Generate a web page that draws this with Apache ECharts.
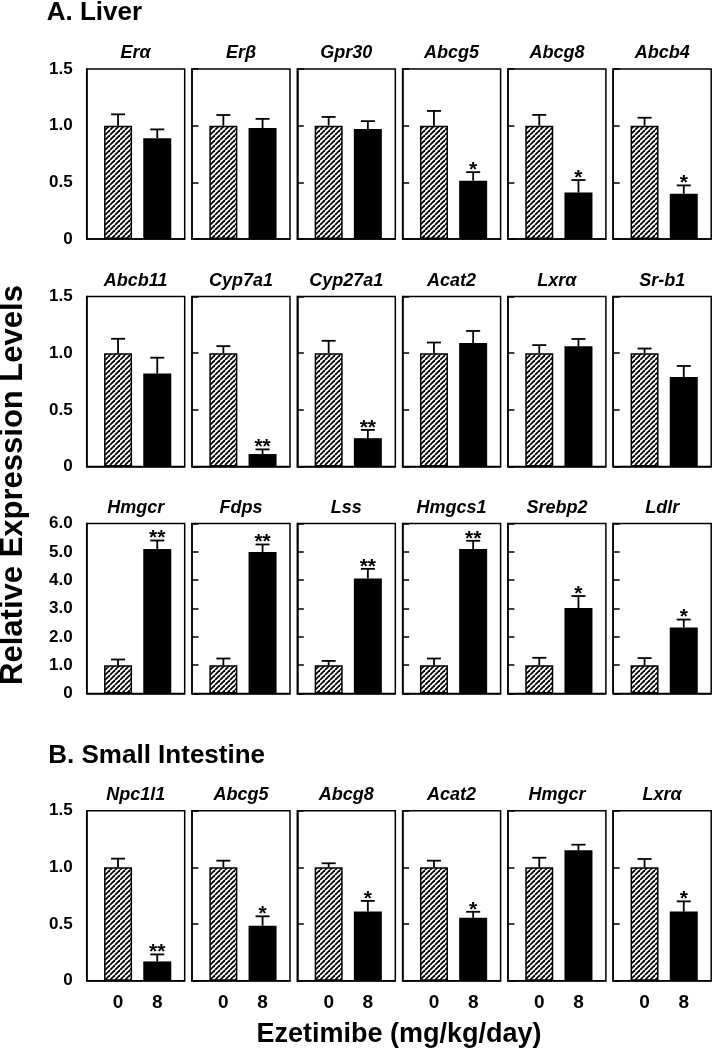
<!DOCTYPE html>
<html>
<head>
<meta charset="utf-8">
<script src="https://cdn.jsdelivr.net/npm/echarts@6/dist/echarts.min.js"></script>
<style>
html,body{margin:0;padding:0;background:#fff;}
#chart{width:713px;height:1050px;}
</style>
</head>
<body>
<div id="chart"></div>
<script>
// ---------- DATA ----------
const doses = ['0', '8'];
const sectionTitles = ['A. Liver', 'B. Small Intestine'];
const yTitle = 'Relative Expression Levels';
const xTitle = 'Ezetimibe (mg/kg/day)';

const genesRow1 = ['Erα', 'Erβ', 'Gpr30', 'Abcg5', 'Abcg8', 'Abcb4'];
const genesRow2 = ['Abcb11', 'Cyp7a1', 'Cyp27a1', 'Acat2', 'Lxrα', 'Sr-b1'];
const genesRow3 = ['Hmgcr', 'Fdps', 'Lss', 'Hmgcs1', 'Srebp2', 'Ldlr'];
const genesRow4 = ['Npc1l1', 'Abcg5', 'Abcg8', 'Acat2', 'Hmgcr', 'Lxrα'];

const ctrlMeanRow1 = [1.0, 1.0, 1.0, 1.0, 1.0, 1.0];
const ctrlSemRow1  = [0.10, 0.094, 0.077, 0.13, 0.095, 0.07];
const ezeMeanRow1  = [0.89, 0.98, 0.97, 0.515, 0.41, 0.40];
const ezeSemRow1   = [0.077, 0.08, 0.07, 0.075, 0.11, 0.073];
const starsRow1    = ['', '', '', '*', '*', '*'];

const ctrlMeanRow2 = [1.0, 1.0, 1.0, 1.0, 1.0, 1.0];
const ctrlSemRow2  = [0.127, 0.062, 0.109, 0.094, 0.071, 0.041];
const ezeMeanRow2  = [0.82, 0.11, 0.25, 1.09, 1.06, 0.79];
const ezeSemRow2   = [0.14, 0.041, 0.073, 0.106, 0.065, 0.097];
const starsRow2    = ['', '**', '**', '', '', ''];

const ctrlMeanRow3 = [1.0, 1.0, 1.0, 1.0, 1.0, 1.0];
const ctrlSemRow3  = [0.20, 0.235, 0.15, 0.235, 0.26, 0.25];
const ezeMeanRow3  = [5.10, 4.99, 4.06, 5.10, 3.02, 2.33];
const ezeSemRow3   = [0.30, 0.27, 0.34, 0.29, 0.42, 0.28];
const starsRow3    = ['**', '**', '**', '**', '*', '*'];

const ctrlMeanRow4 = [1.0, 1.0, 1.0, 1.0, 1.0, 1.0];
const ctrlSemRow4  = [0.077, 0.059, 0.036, 0.059, 0.085, 0.074];
const ezeMeanRow4  = [0.17, 0.485, 0.61, 0.555, 1.15, 0.61];
const ezeSemRow4   = [0.062, 0.083, 0.094, 0.053, 0.05, 0.09];
const starsRow4    = ['**', '*', '*', '*', '', '*'];

const yMaxRows = [1.5, 1.5, 6, 1.5];
const yIntervalRows = [0.5, 0.5, 1, 0.5];

// ---------- LAYOUT ----------
const FONT = '"Liberation Sans", Arial, Helvetica, sans-serif';
const colLeft0 = 86.7, colPitch = 105.3, panelW = 98, panelH = 170;
const rowTops = [69, 296.5, 523.5, 810.7];

const rows = [
  {genes: genesRow1, cm: ctrlMeanRow1, cs: ctrlSemRow1, em: ezeMeanRow1, es: ezeSemRow1, st: starsRow1},
  {genes: genesRow2, cm: ctrlMeanRow2, cs: ctrlSemRow2, em: ezeMeanRow2, es: ezeSemRow2, st: starsRow2},
  {genes: genesRow3, cm: ctrlMeanRow3, cs: ctrlSemRow3, em: ezeMeanRow3, es: ezeSemRow3, st: starsRow3},
  {genes: genesRow4, cm: ctrlMeanRow4, cs: ctrlSemRow4, em: ezeMeanRow4, es: ezeSemRow4, st: starsRow4}
];

// hatch pattern
const hc = document.createElement('canvas');
hc.width = 5; hc.height = 5;
const hctx = hc.getContext('2d');
hctx.fillStyle = '#fff'; hctx.fillRect(0, 0, 5, 5);
hctx.strokeStyle = '#000'; hctx.lineWidth = 1.8;
[-5, 0, 5].forEach(k => { hctx.beginPath(); hctx.moveTo(k, 5); hctx.lineTo(k + 5, 0); hctx.stroke(); });
const hatch = {image: hc, repeat: 'repeat'};

const grid = [], xAxis = [], yAxis = [], series = [], graphic = [];

rows.forEach((r, ri) => {
  r.genes.forEach((g, ci) => {
    const gi = ri * 6 + ci;
    const left = colLeft0 + ci * colPitch;
    const top = rowTops[ri];
    grid.push({left: left, top: top, width: panelW, height: panelH, show: true,
      borderColor: '#000', borderWidth: 1.5, backgroundColor: 'transparent', containLabel: false});
    xAxis.push({type: 'value', gridIndex: gi, min: -0.8, max: 1.7, position: 'bottom',
      axisLine: {show: true, onZero: false, lineStyle: {color: '#000', width: 1.5}},
      axisTick: {show: false}, splitLine: {show: false},
      axisLabel: {show: ri === 3, customValues: [0, 1], margin: 13,
        formatter: v => doses[Math.round(v)],
        fontSize: 19, fontWeight: 'bold', color: '#000', fontFamily: FONT}});
    yAxis.push({type: 'value', gridIndex: gi, min: 0, max: yMaxRows[ri], interval: yIntervalRows[ri],
      position: 'left',
      axisLine: {show: true, onZero: false, lineStyle: {color: '#000', width: 1.5}},
      splitLine: {show: false},
      axisTick: {show: ci > 0, inside: true, length: 6.5, lineStyle: {color: '#000', width: 1.5}},
      axisLabel: {show: ci === 0, margin: 14, fontSize: 17, fontWeight: 'bold', color: '#000', fontFamily: FONT,
        formatter: v => v === 0 ? '0' : v.toFixed(1)}});
    series.push({type: 'bar', xAxisIndex: gi, yAxisIndex: gi, barWidth: 28, z: 2,
      data: [
        {value: [0, r.cm[ci]], itemStyle: {color: hatch, borderColor: '#000', borderWidth: 1.5}},
        {value: [1, r.em[ci]], itemStyle: {color: '#000'}}
      ]});
    const star = r.st[ci];
    series.push({type: 'custom', xAxisIndex: gi, yAxisIndex: gi, z: 3,
      encode: {x: 0, y: [1, 2]},
      data: [[0, r.cm[ci], r.cm[ci] + r.cs[ci]], [1, r.em[ci], r.em[ci] + r.es[ci]]],
      renderItem: function (params, api) {
        const x = api.value(0), m = api.value(1), t = api.value(2);
        const p0 = api.coord([x, m]), p1 = api.coord([x, t]);
        const ls = {stroke: '#000', lineWidth: 1.8};
        const children = [
          {type: 'line', shape: {x1: p0[0], y1: p0[1], x2: p1[0], y2: p1[1]}, style: ls},
          {type: 'line', shape: {x1: p1[0] - 7, y1: p1[1], x2: p1[0] + 7, y2: p1[1]}, style: ls}
        ];
        if (params.dataIndex === 1 && star) {
          children.push({type: 'text', x: p1[0], y: p1[1] - 2,
            style: {text: star, align: 'center', verticalAlign: 'middle', fontSize: 21, fontWeight: 'bold',
              fontFamily: FONT, fill: '#000'}});
        }
        return {type: 'group', children: children};
      }});
    graphic.push({type: 'text', x: left + panelW / 2, y: top - 15.5,
      style: {text: g, align: 'center', verticalAlign: 'middle', fontSize: 18, fontWeight: 'bold',
        fontStyle: 'italic', fontFamily: FONT, fill: '#000'}});
  });
});

graphic.push({type: 'text', x: 46.7, y: 13,
  style: {text: sectionTitles[0], align: 'left', verticalAlign: 'middle', fontSize: 26, fontWeight: 'bold', fontFamily: FONT, fill: '#000'}});
graphic.push({type: 'text', x: 48.3, y: 756,
  style: {text: sectionTitles[1], align: 'left', verticalAlign: 'middle', fontSize: 26, fontWeight: 'bold', fontFamily: FONT, fill: '#000'}});
graphic.push({type: 'text', x: 13, y: 485, rotation: Math.PI / 2,
  style: {text: yTitle, align: 'center', verticalAlign: 'middle', fontSize: 31, fontWeight: 'bold', fontFamily: FONT, fill: '#000'}});
graphic.push({type: 'text', x: 399, y: 1035,
  style: {text: xTitle, align: 'center', verticalAlign: 'middle', fontSize: 27, fontWeight: 'bold', fontFamily: FONT, fill: '#000'}});

const chart = echarts.init(document.getElementById('chart'), null, {renderer: 'canvas'});
chart.setOption({animation: false, backgroundColor: '#fff', grid, xAxis, yAxis, series, graphic});
</script>
</body>
</html>
